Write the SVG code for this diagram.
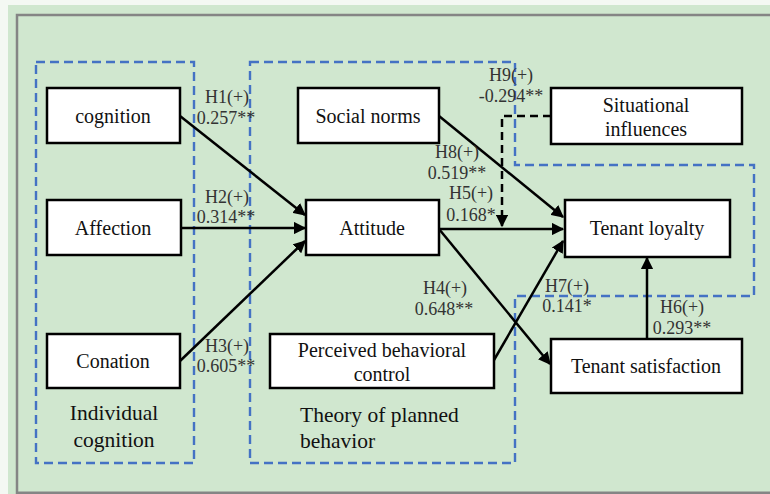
<svg xmlns="http://www.w3.org/2000/svg" width="770" height="494" viewBox="0 0 770 494">
<defs>
<style>
.node rect{fill:#fff;stroke:#000;stroke-width:2.5}
.node text{font-family:'Liberation Serif','Times New Roman','DejaVu Serif',serif;font-size:20px;fill:#111;text-anchor:middle}
.grp{fill:none;stroke:#4472c4;stroke-width:2.4;stroke-dasharray:9 5}
.gl{font-family:'Liberation Serif','Times New Roman','DejaVu Serif',serif;font-size:21.5px;fill:#111}
.lbl{font-family:'Liberation Serif','Times New Roman','DejaVu Serif',serif;font-size:18px;fill:#333;text-anchor:middle}
.edge{fill:none;stroke:#000;stroke-width:2.5}
.dash{fill:none;stroke:#000;stroke-width:2.5;stroke-dasharray:8 5}
</style>
<marker id="ah" viewBox="0 0 10 10" refX="9" refY="5" markerWidth="5" markerHeight="5" orient="auto" markerUnits="strokeWidth">
<path d="M0,0 L10,5 L0,10 z" fill="#000"/>
</marker>
</defs>
<rect x="0" y="0" width="770" height="494" fill="#f4f8f3"/>
<rect x="8" y="5" width="762" height="489" fill="#d0e7cf"/>
<path d="M17,494 V15 H770" fill="none" stroke="#858585" stroke-width="2.5"/>
<line x1="17" y1="493" x2="770" y2="493" stroke="#858585" stroke-width="3"/>

<g id="groups">
<rect class="grp" x="36" y="62" width="158" height="401"/>
<path class="grp" d="M250,62 H515 V165 H754 V296 H515 V463 H250 Z"/>
<text class="gl" x="114" y="420" text-anchor="middle">Individual</text>
<text class="gl" x="114" y="447" text-anchor="middle">cognition</text>
<text class="gl" x="300" y="422">Theory of planned</text>
<text class="gl" x="300" y="448">behavior</text>
</g>

<g id="connectors">
<line class="edge" x1="180" y1="116" x2="305" y2="215" marker-end="url(#ah)"/>
<line class="edge" x1="181" y1="228" x2="305" y2="228" marker-end="url(#ah)"/>
<line class="edge" x1="180" y1="361" x2="305" y2="241" marker-end="url(#ah)"/>
<line class="edge" x1="439" y1="116" x2="563" y2="217" marker-end="url(#ah)"/>
<line class="edge" x1="439" y1="229" x2="563" y2="229" marker-end="url(#ah)"/>
<line class="edge" x1="439" y1="229" x2="550" y2="364" marker-end="url(#ah)"/>
<line class="edge" x1="494" y1="360" x2="563" y2="241" marker-end="url(#ah)"/>
<line class="edge" x1="647" y1="339" x2="647" y2="258" marker-end="url(#ah)"/>
<path class="dash" d="M551,116 H502 V226" marker-end="url(#ah)"/>
</g>

<g id="labels">
<text class="lbl" x="227" y="103">H1(+)</text>
<text class="lbl" x="226" y="124">0.257**</text>
<text class="lbl" x="227" y="203">H2(+)</text>
<text class="lbl" x="226" y="223">0.314**</text>
<text class="lbl" x="227" y="352">H3(+)</text>
<text class="lbl" x="226" y="372">0.605**</text>
<text class="lbl" x="511" y="81">H9(+)</text>
<text class="lbl" x="511" y="102">-0.294**</text>
<text class="lbl" x="457" y="158">H8(+)</text>
<text class="lbl" x="457" y="179">0.519**</text>
<text class="lbl" x="471" y="199">H5(+)</text>
<text class="lbl" x="471" y="221">0.168*</text>
<text class="lbl" x="445" y="294">H4(+)</text>
<text class="lbl" x="444" y="315">0.648**</text>
<text class="lbl" x="567" y="292">H7(+)</text>
<text class="lbl" x="567" y="312">0.141*</text>
<text class="lbl" x="682" y="313">H6(+)</text>
<text class="lbl" x="682" y="334">0.293**</text>
</g>

<g id="n-cognition" class="node"><rect x="47" y="88" width="133" height="55"/><text x="113" y="123">cognition</text></g>
<g id="n-affection" class="node"><rect x="47" y="200" width="134" height="55"/><text x="113" y="235">Affection</text></g>
<g id="n-conation" class="node"><rect x="47" y="334" width="133" height="54"/><text x="113" y="368">Conation</text></g>
<g id="n-social" class="node"><rect x="298" y="88" width="141" height="55"/><text x="368" y="123">Social norms</text></g>
<g id="n-attitude" class="node"><rect x="306" y="200" width="133" height="55"/><text x="372" y="235">Attitude</text></g>
<g id="n-pbc" class="node"><rect x="270" y="334" width="224" height="54"/><text x="382" y="357">Perceived behavioral</text><text x="382" y="381">control</text></g>
<g id="n-situational" class="node"><rect x="551" y="88" width="191" height="56"/><text x="646" y="112">Situational</text><text x="646" y="136">influences</text></g>
<g id="n-loyalty" class="node"><rect x="565" y="200" width="165" height="57"/><text x="647" y="235">Tenant loyalty</text></g>
<g id="n-satisfaction" class="node"><rect x="551" y="339" width="191" height="54"/><text x="646" y="373">Tenant satisfaction</text></g>
</svg>
